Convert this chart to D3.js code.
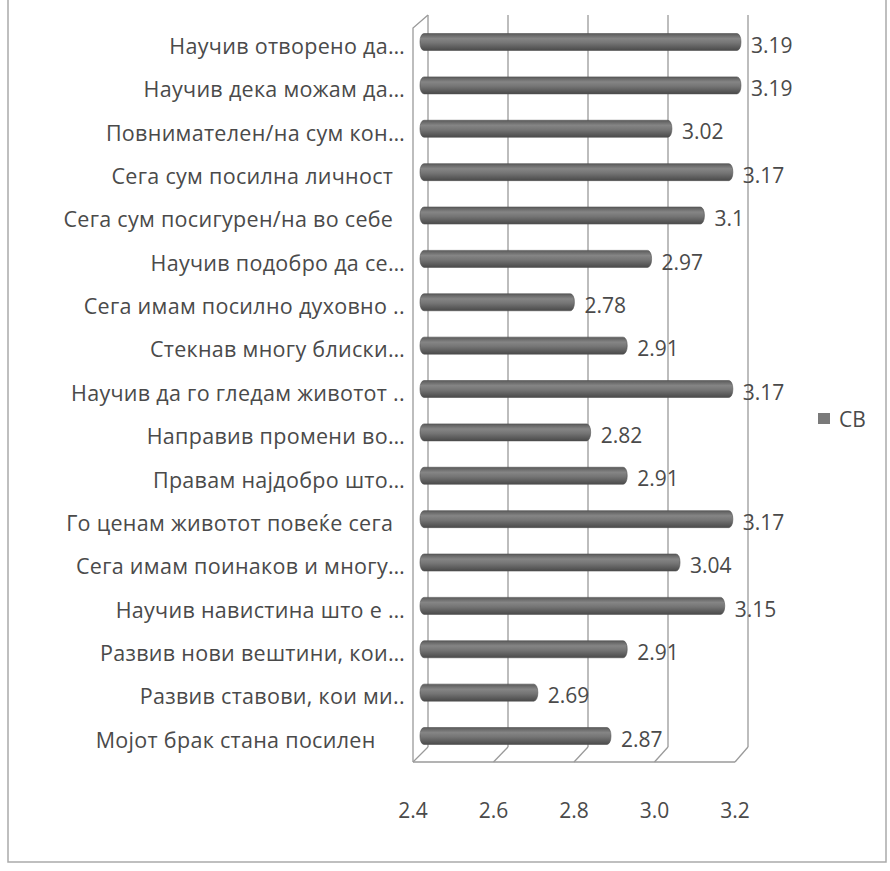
<!DOCTYPE html>
<html><head><meta charset="utf-8">
<script src="https://cdn.jsdelivr.net/npm/d3@7"></script>
<style>body{margin:0;background:#fff}svg{display:block}text{font-family:"Open Sans","Noto Sans",sans-serif;fill:#4a4a4a}</style>
</head><body><svg id="c" width="890" height="871"></svg>
<script>
const categories = [
"Научив отворено да…","Научив дека можам да…","Повнимателен/на сум кон…","Сега сум посилна личност\u00a0\u00a0",
"Сега сум посигурен/на во себе\u00a0\u00a0","Научив подобро да се…","Сега имам посилно духовно ..","Стекнав многу блиски…",
"Научив да го гледам животот ..","Направив промени во…","Правам најдобро што…","Го ценам животот повеќе сега\u00a0\u00a0",
"Сега имам поинаков и многу…","Научив навистина што е …","Развив нови вештини, кои…","Развив ставови, кои ми..",
"Мојот брак стана посилен\u00a0\u00a0\u00a0\u00a0\u00a0"];
const values = [3.19,3.19,3.02,3.17,3.1,2.97,2.78,2.91,3.17,2.82,2.91,3.17,3.04,3.15,2.91,2.69,2.87];
const ticks = [2.4,2.6,2.8,3.0,3.2];
const seriesName = "СВ";

const svg = d3.select("#c");
const xBar = d3.scaleLinear().domain([2.4,3.2]).range([420,745]);
const xFront = d3.scaleLinear().domain([2.4,3.2]).range([413,735]);
const xBack = d3.scaleLinear().domain([2.4,3.2]).range([428,748]);
const y = d3.scalePoint().domain(categories).range([42,736]);
const backTop = 15, backBottom = 747, frontBottom = 762, frontTop = 28;

// outer frame
svg.append("rect").attr("x",8).attr("y",-2).attr("width",878).attr("height",864)
  .attr("fill","none").attr("stroke","#aaa").attr("stroke-width",1.5);

const defs = svg.append("defs");
const g = defs.append("linearGradient").attr("id","cyl").attr("x1",0).attr("y1",0).attr("x2",0).attr("y2",1);
[[0,"#5a5a5a"],[0.3,"#858585"],[0.55,"#757575"],[1,"#4a4a4a"]].forEach(([o,c])=>g.append("stop").attr("offset",o).attr("stop-color",c));

const grid = svg.append("g").attr("stroke","#9a9a9a").attr("stroke-width",1.3).attr("fill","none");
grid.selectAll(".v").data(ticks).join("line")
  .attr("x1",d=>xBack(d)).attr("x2",d=>xBack(d)).attr("y1",backTop).attr("y2",backBottom);
grid.selectAll(".d").data(ticks).join("line")
  .attr("x1",d=>xBack(d)).attr("x2",d=>xFront(d)).attr("y1",backBottom).attr("y2",frontBottom);
grid.append("line").attr("x1",xFront(2.4)).attr("x2",xFront(3.2)).attr("y1",frontBottom).attr("y2",frontBottom);
grid.append("path").attr("d",`M${xFront(2.4)},${frontBottom}L${xFront(2.4)},${frontTop}L${xBack(2.4)},${backTop}`);

// bars
svg.append("g").selectAll("rect").data(values).join("rect")
  .attr("x",xBar(2.4)).attr("y",(d,i)=>y(categories[i])-8.5)
  .attr("width",d=>xBar(d)-xBar(2.4)).attr("height",17)
  .attr("rx",4).attr("ry",8).attr("fill","url(#cyl)").attr("stroke","#505050").attr("stroke-width",0.6);

// value labels
svg.append("g").selectAll("text").data(values).join("text")
  .attr("x",d=>xBar(d)+10).attr("y",(d,i)=>y(categories[i])+5)
  .attr("dominant-baseline","middle").attr("font-size",21)
  .text(d=>d3.format("")(d));

// category labels
svg.append("g").selectAll("text").data(categories).join("text")
  .attr("x",405).attr("y",d=>y(d)+6).attr("text-anchor","end")
  .attr("dominant-baseline","middle").attr("font-size",21.5).attr("letter-spacing",0.3)
  .text(d=>d);

// x tick labels
svg.append("g").selectAll("text").data(ticks).join("text")
  .attr("x",d=>xFront(d)).attr("y",812).attr("text-anchor","middle")
  .attr("dominant-baseline","middle").attr("font-size",21)
  .text(d=>d3.format(".1f")(d));

// legend
svg.append("rect").attr("x",818).attr("y",413).attr("width",12).attr("height",11).attr("fill","#7a7a7a");
svg.append("text").attr("x",839).attr("y",421).attr("dominant-baseline","middle").attr("font-size",21).text(seriesName);
</script></body></html>
